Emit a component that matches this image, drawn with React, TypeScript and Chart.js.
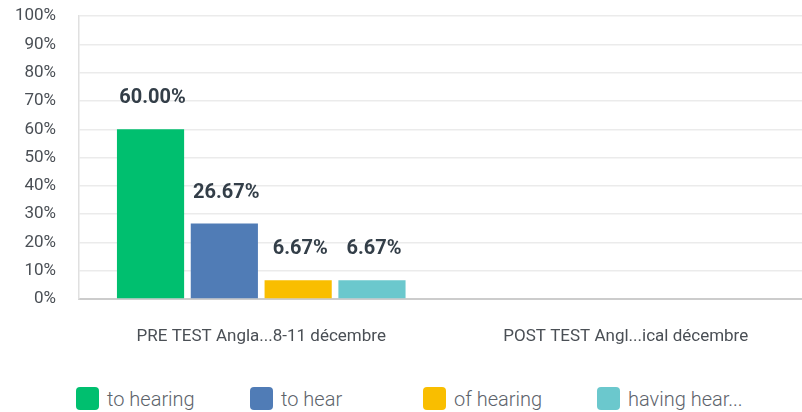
import React, { useEffect, useRef } from "react";
import { Chart, registerables } from "chart.js";

Chart.register(...registerables);

const categories = ["PRE TEST Angla...8-11 décembre", "POST TEST Angl...ical décembre"];
const seriesNames = ["to hearing", "to hear", "of hearing", "having hear..."];
const toHearing = [60.0, null];
const toHear = [26.67, null];
const ofHearing = [6.67, null];
const havingHear = [6.67, null];
const seriesColors = ["#00bf6f", "#507cb6", "#f9be00", "#6bc8cd"];
const yTicks = [0, 10, 20, 30, 40, 50, 60, 70, 80, 90, 100];

const valueLabels = {
  id: "valueLabels",
  afterDatasetsDraw(chart: any) {
    const ctx = chart.ctx;
    ctx.save();
    ctx.font = "bold 20px Roboto";
    ctx.fillStyle = "#333e48";
    ctx.textAlign = "center";
    ctx.textBaseline = "middle";
    chart.data.datasets.forEach((ds: any, i: number) => {
      const meta = chart.getDatasetMeta(i);
      meta.data.forEach((bar: any, j: number) => {
        const v = ds.data[j];
        if (v === null || v === undefined) return;
        ctx.fillText(v.toFixed(2) + "%", bar.x + 2, bar.y - 31);
      });
    });
    ctx.restore();
  },
};

export default function App() {
  const ref = useRef<HTMLCanvasElement>(null);
  useEffect(() => {
    const allData = [toHearing, toHear, ofHearing, havingHear];
    const chart = new Chart(ref.current as HTMLCanvasElement, {
      type: "bar",
      data: {
        labels: categories,
        datasets: seriesNames.map((name, i) => ({
          label: name,
          data: allData[i] as any,
          backgroundColor: seriesColors[i],
          borderWidth: 0,
          categoryPercentage: 0.81,
          barPercentage: 0.91,
        })),
      },
      options: {
        animation: false,
        responsive: false,
        maintainAspectRatio: false,
        layout: { padding: { top: 14, right: 2, left: 0, bottom: 0 } },
        plugins: { legend: { display: false }, tooltip: { enabled: false } },
        scales: {
          x: {
            grid: { display: false },
            border: { display: true, color: "#cccccc", width: 2 },
            ticks: {
              padding: 20,
              color: "#4a4f55",
              font: { family: "Roboto", size: 17 },
              maxRotation: 0,
            },
            afterFit: (s: any) => {
              s.height = 51;
            },
          },
          y: {
            min: 0,
            max: 100,
            afterBuildTicks: (s: any) => {
              s.ticks = yTicks.map((v) => ({ value: v }));
            },
            grid: {
              color: "#ebebeb",
              lineWidth: 1.5,
              drawTicks: false,
            },
            border: { display: true, color: "#e0e0e0", width: 1.5 },
            ticks: {
              padding: 23,
              color: "#4a4f55",
              font: { family: "Roboto", size: 17 },
              callback: (v: any) => v + "%",
            },
            afterFit: (s: any) => {
              s.width = 79;
            },
          },
        },
      },
      plugins: [valueLabels],
    });
    return () => chart.destroy();
  }, []);

  const legendX = [76, 250, 423, 597];
  return (
    <div style={{ position: "absolute", left: 0, top: 0, width: 802, height: 412, background: "#fff", overflow: "hidden" }}>
      <canvas ref={ref} width={810} height={367} style={{ position: "absolute", left: 0, top: -17 }} />
      {seriesNames.map((n, i) => (
        <div
          key={n}
          style={{
            position: "absolute",
            left: legendX[i],
            top: 387,
            height: 23,
            display: "flex",
            alignItems: "center",
            fontFamily: "Roboto",
            fontSize: 20,
            fontWeight: 300,
            color: "#5d636b",
            whiteSpace: "nowrap",
          }}
        >
          <span
            style={{
              display: "inline-block",
              width: 23,
              height: 23,
              borderRadius: 4,
              background: seriesColors[i],
              marginRight: 8,
            }}
          />
          {n}
        </div>
      ))}
    </div>
  );
}
